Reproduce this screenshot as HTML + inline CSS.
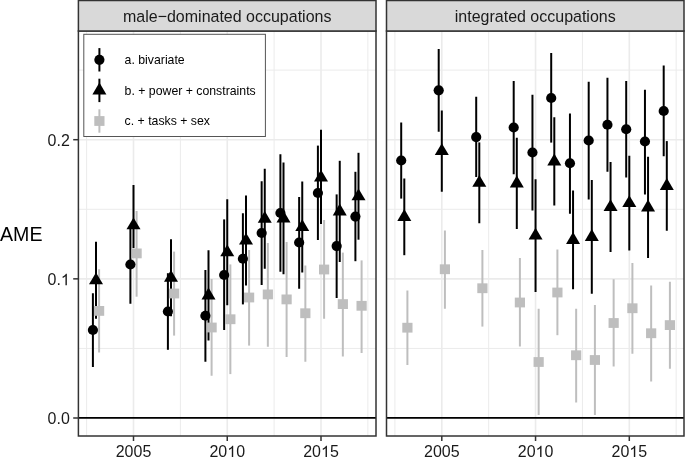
<!DOCTYPE html>
<html><head><meta charset="utf-8"><style>html,body{margin:0;padding:0;background:#fff;}svg{display:block;will-change:transform;}</style></head><body>
<svg width="685" height="457" viewBox="0 0 685 457" style="font-family:'Liberation Sans', sans-serif">
<rect width="685" height="457" fill="#fff"/>
<line x1="78.4" x2="376" y1="348.43" y2="348.43" stroke="#EBEBEB" stroke-width="1"/>
<line x1="78.4" x2="376" y1="209.28" y2="209.28" stroke="#EBEBEB" stroke-width="1"/>
<line x1="78.4" x2="376" y1="70.12" y2="70.12" stroke="#EBEBEB" stroke-width="1"/>
<line x1="78.4" x2="376" y1="418.00" y2="418.00" stroke="#EBEBEB" stroke-width="1.6"/>
<line x1="78.4" x2="376" y1="278.85" y2="278.85" stroke="#EBEBEB" stroke-width="1.6"/>
<line x1="78.4" x2="376" y1="139.70" y2="139.70" stroke="#EBEBEB" stroke-width="1.6"/>
<line x1="86.62" x2="86.62" y1="31" y2="436" stroke="#EBEBEB" stroke-width="1"/>
<line x1="180.38" x2="180.38" y1="31" y2="436" stroke="#EBEBEB" stroke-width="1"/>
<line x1="274.12" x2="274.12" y1="31" y2="436" stroke="#EBEBEB" stroke-width="1"/>
<line x1="367.88" x2="367.88" y1="31" y2="436" stroke="#EBEBEB" stroke-width="1"/>
<line x1="133.50" x2="133.50" y1="31" y2="436" stroke="#EBEBEB" stroke-width="1.6"/>
<line x1="227.25" x2="227.25" y1="31" y2="436" stroke="#EBEBEB" stroke-width="1.6"/>
<line x1="321.00" x2="321.00" y1="31" y2="436" stroke="#EBEBEB" stroke-width="1.6"/>
<line x1="78.4" x2="376" y1="417.9" y2="417.9" stroke="#000" stroke-width="1.8"/>
<rect x="83.8" y="34.3" width="181.6" height="102.2" fill="#fff" stroke="#555" stroke-width="1"/>
<line x1="92.90" x2="92.90" y1="293.25" y2="367.00" stroke="#000" stroke-width="2.0"/>
<line x1="96.00" x2="96.00" y1="241.75" y2="318.75" stroke="#000" stroke-width="2.0"/>
<line x1="99.10" x2="99.10" y1="269.25" y2="352.50" stroke="#BEBEBE" stroke-width="2.0"/>
<line x1="130.40" x2="130.40" y1="225.50" y2="303.75" stroke="#000" stroke-width="2.0"/>
<line x1="133.50" x2="133.50" y1="185.00" y2="248.00" stroke="#000" stroke-width="2.0"/>
<line x1="136.60" x2="136.60" y1="211.00" y2="296.70" stroke="#BEBEBE" stroke-width="2.0"/>
<line x1="167.90" x2="167.90" y1="273.20" y2="349.80" stroke="#000" stroke-width="2.0"/>
<line x1="171.00" x2="171.00" y1="239.20" y2="316.20" stroke="#000" stroke-width="2.0"/>
<line x1="174.10" x2="174.10" y1="251.60" y2="335.60" stroke="#BEBEBE" stroke-width="2.0"/>
<line x1="205.40" x2="205.40" y1="270.00" y2="361.75" stroke="#000" stroke-width="2.0"/>
<line x1="208.50" x2="208.50" y1="250.25" y2="340.50" stroke="#000" stroke-width="2.0"/>
<line x1="211.60" x2="211.60" y1="279.00" y2="375.75" stroke="#BEBEBE" stroke-width="2.0"/>
<line x1="224.15" x2="224.15" y1="219.40" y2="330.00" stroke="#000" stroke-width="2.0"/>
<line x1="227.25" x2="227.25" y1="199.25" y2="305.25" stroke="#000" stroke-width="2.0"/>
<line x1="230.35" x2="230.35" y1="264.40" y2="374.10" stroke="#BEBEBE" stroke-width="2.0"/>
<line x1="242.90" x2="242.90" y1="213.25" y2="304.40" stroke="#000" stroke-width="2.0"/>
<line x1="246.00" x2="246.00" y1="195.40" y2="285.60" stroke="#000" stroke-width="2.0"/>
<line x1="249.10" x2="249.10" y1="250.00" y2="345.60" stroke="#BEBEBE" stroke-width="2.0"/>
<line x1="261.65" x2="261.65" y1="181.25" y2="285.00" stroke="#000" stroke-width="2.0"/>
<line x1="264.75" x2="264.75" y1="168.75" y2="268.75" stroke="#000" stroke-width="2.0"/>
<line x1="267.85" x2="267.85" y1="243.00" y2="346.75" stroke="#BEBEBE" stroke-width="2.0"/>
<line x1="280.40" x2="280.40" y1="154.25" y2="271.75" stroke="#000" stroke-width="2.0"/>
<line x1="283.50" x2="283.50" y1="162.50" y2="274.25" stroke="#000" stroke-width="2.0"/>
<line x1="286.60" x2="286.60" y1="242.00" y2="357.00" stroke="#BEBEBE" stroke-width="2.0"/>
<line x1="299.15" x2="299.15" y1="197.00" y2="288.75" stroke="#000" stroke-width="2.0"/>
<line x1="302.25" x2="302.25" y1="181.50" y2="272.50" stroke="#000" stroke-width="2.0"/>
<line x1="305.35" x2="305.35" y1="265.50" y2="361.75" stroke="#BEBEBE" stroke-width="2.0"/>
<line x1="317.90" x2="317.90" y1="145.60" y2="240.00" stroke="#000" stroke-width="2.0"/>
<line x1="321.00" x2="321.00" y1="129.80" y2="224.00" stroke="#000" stroke-width="2.0"/>
<line x1="324.10" x2="324.10" y1="220.00" y2="318.75" stroke="#BEBEBE" stroke-width="2.0"/>
<line x1="336.65" x2="336.65" y1="194.40" y2="298.00" stroke="#000" stroke-width="2.0"/>
<line x1="339.75" x2="339.75" y1="160.80" y2="262.00" stroke="#000" stroke-width="2.0"/>
<line x1="342.85" x2="342.85" y1="252.60" y2="356.50" stroke="#BEBEBE" stroke-width="2.0"/>
<line x1="355.40" x2="355.40" y1="171.80" y2="261.20" stroke="#000" stroke-width="2.0"/>
<line x1="358.50" x2="358.50" y1="152.80" y2="239.70" stroke="#000" stroke-width="2.0"/>
<line x1="361.60" x2="361.60" y1="260.40" y2="353.00" stroke="#BEBEBE" stroke-width="2.0"/>
<circle cx="92.90" cy="330.00" r="5.1" fill="#000"/>
<path d="M96.00 272.45L103.00 284.25L89.00 284.25Z" fill="#000"/>
<rect x="94.00" y="306.00" width="10.2" height="9.8" fill="#BEBEBE"/>
<circle cx="130.40" cy="264.50" r="5.1" fill="#000"/>
<path d="M133.50 217.40L140.50 229.20L126.50 229.20Z" fill="#000"/>
<rect x="131.50" y="248.50" width="10.2" height="9.8" fill="#BEBEBE"/>
<circle cx="167.90" cy="311.50" r="5.1" fill="#000"/>
<path d="M171.00 269.90L178.00 281.70L164.00 281.70Z" fill="#000"/>
<rect x="169.00" y="288.60" width="10.2" height="9.8" fill="#BEBEBE"/>
<circle cx="205.40" cy="315.75" r="5.1" fill="#000"/>
<path d="M208.50 287.60L215.50 299.40L201.50 299.40Z" fill="#000"/>
<rect x="206.50" y="322.60" width="10.2" height="9.8" fill="#BEBEBE"/>
<circle cx="224.15" cy="275.00" r="5.1" fill="#000"/>
<path d="M227.25 244.45L234.25 256.25L220.25 256.25Z" fill="#000"/>
<rect x="225.25" y="314.35" width="10.2" height="9.8" fill="#BEBEBE"/>
<circle cx="242.90" cy="258.75" r="5.1" fill="#000"/>
<path d="M246.00 232.70L253.00 244.50L239.00 244.50Z" fill="#000"/>
<rect x="244.00" y="292.60" width="10.2" height="9.8" fill="#BEBEBE"/>
<circle cx="261.65" cy="233.00" r="5.1" fill="#000"/>
<path d="M264.75 210.95L271.75 222.75L257.75 222.75Z" fill="#000"/>
<rect x="262.75" y="289.50" width="10.2" height="9.8" fill="#BEBEBE"/>
<circle cx="280.40" cy="213.00" r="5.1" fill="#000"/>
<path d="M283.50 210.60L290.50 222.40L276.50 222.40Z" fill="#000"/>
<rect x="281.50" y="294.50" width="10.2" height="9.8" fill="#BEBEBE"/>
<circle cx="299.15" cy="242.50" r="5.1" fill="#000"/>
<path d="M302.25 219.20L309.25 231.00L295.25 231.00Z" fill="#000"/>
<rect x="300.25" y="308.35" width="10.2" height="9.8" fill="#BEBEBE"/>
<circle cx="317.90" cy="193.00" r="5.1" fill="#000"/>
<path d="M321.00 169.70L328.00 181.50L314.00 181.50Z" fill="#000"/>
<rect x="319.00" y="264.60" width="10.2" height="9.8" fill="#BEBEBE"/>
<circle cx="336.65" cy="246.10" r="5.1" fill="#000"/>
<path d="M339.75 203.60L346.75 215.40L332.75 215.40Z" fill="#000"/>
<rect x="337.75" y="299.20" width="10.2" height="9.8" fill="#BEBEBE"/>
<circle cx="355.40" cy="216.60" r="5.1" fill="#000"/>
<path d="M358.50 188.50L365.50 200.30L351.50 200.30Z" fill="#000"/>
<rect x="356.50" y="300.90" width="10.2" height="9.8" fill="#BEBEBE"/>
<rect x="78.4" y="31" width="297.6" height="405" fill="none" stroke="#333" stroke-width="1.5"/>
<rect x="78.4" y="0.5" width="297.6" height="30.5" fill="#D9D9D9" stroke="#333" stroke-width="1.5"/>
<text transform="translate(227.20 21.50) scale(1 1.04)" text-anchor="middle" font-size="16" fill="#1A1A1A">male−dominated occupations</text>
<line x1="133.50" x2="133.50" y1="436" y2="441" stroke="#333" stroke-width="1.5"/>
<text transform="translate(133.50 457.10) scale(1 1.04)" text-anchor="middle" font-size="16" fill="#1A1A1A">2005</text>
<line x1="227.25" x2="227.25" y1="436" y2="441" stroke="#333" stroke-width="1.5"/>
<text transform="translate(227.25 457.10) scale(1 1.04)" text-anchor="middle" font-size="16" fill="#1A1A1A">20 0</text>
<path transform="translate(227.25 457.10) scale(0.00781 -0.00813)" d="M763 0L583 0L583 1098Q518 1038 412 979Q307 920 223 890L223 1057Q374 1125 487 1221Q600 1318 647 1409L763 1409Z" fill="#1A1A1A"/>
<line x1="321.00" x2="321.00" y1="436" y2="441" stroke="#333" stroke-width="1.5"/>
<text transform="translate(321.00 457.10) scale(1 1.04)" text-anchor="middle" font-size="16" fill="#1A1A1A">20 5</text>
<path transform="translate(321.00 457.10) scale(0.00781 -0.00813)" d="M763 0L583 0L583 1098Q518 1038 412 979Q307 920 223 890L223 1057Q374 1125 487 1221Q600 1318 647 1409L763 1409Z" fill="#1A1A1A"/>
<line x1="386.5" x2="684" y1="348.43" y2="348.43" stroke="#EBEBEB" stroke-width="1"/>
<line x1="386.5" x2="684" y1="209.28" y2="209.28" stroke="#EBEBEB" stroke-width="1"/>
<line x1="386.5" x2="684" y1="70.12" y2="70.12" stroke="#EBEBEB" stroke-width="1"/>
<line x1="386.5" x2="684" y1="418.00" y2="418.00" stroke="#EBEBEB" stroke-width="1.6"/>
<line x1="386.5" x2="684" y1="278.85" y2="278.85" stroke="#EBEBEB" stroke-width="1.6"/>
<line x1="386.5" x2="684" y1="139.70" y2="139.70" stroke="#EBEBEB" stroke-width="1.6"/>
<line x1="394.93" x2="394.93" y1="31" y2="436" stroke="#EBEBEB" stroke-width="1"/>
<line x1="488.68" x2="488.68" y1="31" y2="436" stroke="#EBEBEB" stroke-width="1"/>
<line x1="582.42" x2="582.42" y1="31" y2="436" stroke="#EBEBEB" stroke-width="1"/>
<line x1="676.17" x2="676.17" y1="31" y2="436" stroke="#EBEBEB" stroke-width="1"/>
<line x1="441.80" x2="441.80" y1="31" y2="436" stroke="#EBEBEB" stroke-width="1.6"/>
<line x1="535.55" x2="535.55" y1="31" y2="436" stroke="#EBEBEB" stroke-width="1.6"/>
<line x1="629.30" x2="629.30" y1="31" y2="436" stroke="#EBEBEB" stroke-width="1.6"/>
<line x1="386.5" x2="684" y1="417.9" y2="417.9" stroke="#000" stroke-width="1.8"/>
<line x1="401.20" x2="401.20" y1="122.50" y2="198.60" stroke="#000" stroke-width="2.0"/>
<line x1="404.30" x2="404.30" y1="178.50" y2="255.20" stroke="#000" stroke-width="2.0"/>
<line x1="407.40" x2="407.40" y1="290.50" y2="365.00" stroke="#BEBEBE" stroke-width="2.0"/>
<line x1="438.70" x2="438.70" y1="49.00" y2="131.75" stroke="#000" stroke-width="2.0"/>
<line x1="441.80" x2="441.80" y1="110.50" y2="191.75" stroke="#000" stroke-width="2.0"/>
<line x1="444.90" x2="444.90" y1="230.50" y2="308.75" stroke="#BEBEBE" stroke-width="2.0"/>
<line x1="476.20" x2="476.20" y1="96.75" y2="177.00" stroke="#000" stroke-width="2.0"/>
<line x1="479.30" x2="479.30" y1="142.40" y2="223.25" stroke="#000" stroke-width="2.0"/>
<line x1="482.40" x2="482.40" y1="250.00" y2="326.60" stroke="#BEBEBE" stroke-width="2.0"/>
<line x1="513.70" x2="513.70" y1="81.00" y2="174.25" stroke="#000" stroke-width="2.0"/>
<line x1="516.80" x2="516.80" y1="137.75" y2="229.00" stroke="#000" stroke-width="2.0"/>
<line x1="519.90" x2="519.90" y1="258.00" y2="346.50" stroke="#BEBEBE" stroke-width="2.0"/>
<line x1="532.45" x2="532.45" y1="94.75" y2="210.50" stroke="#000" stroke-width="2.0"/>
<line x1="535.55" x2="535.55" y1="179.25" y2="292.00" stroke="#000" stroke-width="2.0"/>
<line x1="538.65" x2="538.65" y1="308.75" y2="415.00" stroke="#BEBEBE" stroke-width="2.0"/>
<line x1="551.20" x2="551.20" y1="53.00" y2="142.60" stroke="#000" stroke-width="2.0"/>
<line x1="554.30" x2="554.30" y1="117.25" y2="205.50" stroke="#000" stroke-width="2.0"/>
<line x1="557.40" x2="557.40" y1="249.50" y2="335.20" stroke="#BEBEBE" stroke-width="2.0"/>
<line x1="569.95" x2="569.95" y1="113.50" y2="213.75" stroke="#000" stroke-width="2.0"/>
<line x1="573.05" x2="573.05" y1="190.50" y2="289.25" stroke="#000" stroke-width="2.0"/>
<line x1="576.15" x2="576.15" y1="308.75" y2="402.50" stroke="#BEBEBE" stroke-width="2.0"/>
<line x1="588.70" x2="588.70" y1="81.75" y2="199.50" stroke="#000" stroke-width="2.0"/>
<line x1="591.80" x2="591.80" y1="180.00" y2="293.75" stroke="#000" stroke-width="2.0"/>
<line x1="594.90" x2="594.90" y1="305.00" y2="415.00" stroke="#BEBEBE" stroke-width="2.0"/>
<line x1="607.45" x2="607.45" y1="77.75" y2="171.75" stroke="#000" stroke-width="2.0"/>
<line x1="610.55" x2="610.55" y1="162.00" y2="252.00" stroke="#000" stroke-width="2.0"/>
<line x1="613.65" x2="613.65" y1="279.25" y2="366.50" stroke="#BEBEBE" stroke-width="2.0"/>
<line x1="626.20" x2="626.20" y1="81.00" y2="177.50" stroke="#000" stroke-width="2.0"/>
<line x1="629.30" x2="629.30" y1="155.75" y2="250.50" stroke="#000" stroke-width="2.0"/>
<line x1="632.40" x2="632.40" y1="263.00" y2="353.75" stroke="#BEBEBE" stroke-width="2.0"/>
<line x1="644.95" x2="644.95" y1="89.75" y2="194.50" stroke="#000" stroke-width="2.0"/>
<line x1="648.05" x2="648.05" y1="156.75" y2="258.00" stroke="#000" stroke-width="2.0"/>
<line x1="651.15" x2="651.15" y1="285.50" y2="381.50" stroke="#BEBEBE" stroke-width="2.0"/>
<line x1="663.70" x2="663.70" y1="65.50" y2="156.25" stroke="#000" stroke-width="2.0"/>
<line x1="666.80" x2="666.80" y1="141.10" y2="230.75" stroke="#000" stroke-width="2.0"/>
<line x1="669.90" x2="669.90" y1="281.75" y2="368.75" stroke="#BEBEBE" stroke-width="2.0"/>
<circle cx="401.20" cy="160.50" r="5.1" fill="#000"/>
<path d="M404.30 209.10L411.30 220.90L397.30 220.90Z" fill="#000"/>
<rect x="402.30" y="322.80" width="10.2" height="9.8" fill="#BEBEBE"/>
<circle cx="438.70" cy="90.30" r="5.1" fill="#000"/>
<path d="M441.80 143.30L448.80 155.10L434.80 155.10Z" fill="#000"/>
<rect x="439.80" y="264.35" width="10.2" height="9.8" fill="#BEBEBE"/>
<circle cx="476.20" cy="137.10" r="5.1" fill="#000"/>
<path d="M479.30 175.00L486.30 186.80L472.30 186.80Z" fill="#000"/>
<rect x="477.30" y="283.35" width="10.2" height="9.8" fill="#BEBEBE"/>
<circle cx="513.70" cy="127.50" r="5.1" fill="#000"/>
<path d="M516.80 175.60L523.80 187.40L509.80 187.40Z" fill="#000"/>
<rect x="514.80" y="297.60" width="10.2" height="9.8" fill="#BEBEBE"/>
<circle cx="532.45" cy="152.50" r="5.1" fill="#000"/>
<path d="M535.55 227.80L542.55 239.60L528.55 239.60Z" fill="#000"/>
<rect x="533.55" y="357.10" width="10.2" height="9.8" fill="#BEBEBE"/>
<circle cx="551.20" cy="98.00" r="5.1" fill="#000"/>
<path d="M554.30 153.60L561.30 165.40L547.30 165.40Z" fill="#000"/>
<rect x="552.30" y="287.60" width="10.2" height="9.8" fill="#BEBEBE"/>
<circle cx="569.95" cy="163.25" r="5.1" fill="#000"/>
<path d="M573.05 232.10L580.05 243.90L566.05 243.90Z" fill="#000"/>
<rect x="571.05" y="350.35" width="10.2" height="9.8" fill="#BEBEBE"/>
<circle cx="588.70" cy="140.50" r="5.1" fill="#000"/>
<path d="M591.80 229.10L598.80 240.90L584.80 240.90Z" fill="#000"/>
<rect x="589.80" y="355.10" width="10.2" height="9.8" fill="#BEBEBE"/>
<circle cx="607.45" cy="124.75" r="5.1" fill="#000"/>
<path d="M610.55 199.20L617.55 211.00L603.55 211.00Z" fill="#000"/>
<rect x="608.55" y="318.10" width="10.2" height="9.8" fill="#BEBEBE"/>
<circle cx="626.20" cy="129.25" r="5.1" fill="#000"/>
<path d="M629.30 195.30L636.30 207.10L622.30 207.10Z" fill="#000"/>
<rect x="627.30" y="303.35" width="10.2" height="9.8" fill="#BEBEBE"/>
<circle cx="644.95" cy="141.50" r="5.1" fill="#000"/>
<path d="M648.05 199.60L655.05 211.40L641.05 211.40Z" fill="#000"/>
<rect x="646.05" y="328.35" width="10.2" height="9.8" fill="#BEBEBE"/>
<circle cx="663.70" cy="111.00" r="5.1" fill="#000"/>
<path d="M666.80 178.10L673.80 189.90L659.80 189.90Z" fill="#000"/>
<rect x="664.80" y="320.20" width="10.2" height="9.8" fill="#BEBEBE"/>
<rect x="386.5" y="31" width="297.5" height="405" fill="none" stroke="#333" stroke-width="1.5"/>
<rect x="386.5" y="0.5" width="297.5" height="30.5" fill="#D9D9D9" stroke="#333" stroke-width="1.5"/>
<text transform="translate(535.25 21.50) scale(1 1.04)" text-anchor="middle" font-size="16" fill="#1A1A1A">integrated occupations</text>
<line x1="441.80" x2="441.80" y1="436" y2="441" stroke="#333" stroke-width="1.5"/>
<text transform="translate(441.80 457.10) scale(1 1.04)" text-anchor="middle" font-size="16" fill="#1A1A1A">2005</text>
<line x1="535.55" x2="535.55" y1="436" y2="441" stroke="#333" stroke-width="1.5"/>
<text transform="translate(535.55 457.10) scale(1 1.04)" text-anchor="middle" font-size="16" fill="#1A1A1A">20 0</text>
<path transform="translate(535.55 457.10) scale(0.00781 -0.00813)" d="M763 0L583 0L583 1098Q518 1038 412 979Q307 920 223 890L223 1057Q374 1125 487 1221Q600 1318 647 1409L763 1409Z" fill="#1A1A1A"/>
<line x1="629.30" x2="629.30" y1="436" y2="441" stroke="#333" stroke-width="1.5"/>
<text transform="translate(629.30 457.10) scale(1 1.04)" text-anchor="middle" font-size="16" fill="#1A1A1A">20 5</text>
<path transform="translate(629.30 457.10) scale(0.00781 -0.00813)" d="M763 0L583 0L583 1098Q518 1038 412 979Q307 920 223 890L223 1057Q374 1125 487 1221Q600 1318 647 1409L763 1409Z" fill="#1A1A1A"/>
<line x1="99.4" x2="99.4" y1="48.10" y2="71.50" stroke="#000" stroke-width="2.0"/>
<circle cx="99.4" cy="59.8" r="5.1" fill="#000"/>
<text transform="translate(124.60 64.20) scale(1 1.04)" text-anchor="start" font-size="12.3" fill="#000">a. bivariate</text>
<line x1="99.4" x2="99.4" y1="78.70" y2="102.10" stroke="#000" stroke-width="2.0"/>
<path d="M99.40 82.60L106.40 94.40L92.40 94.40Z" fill="#000"/>
<text transform="translate(124.60 94.80) scale(1 1.04)" text-anchor="start" font-size="12.3" fill="#000">b. + power + constraints</text>
<line x1="99.4" x2="99.4" y1="109.30" y2="132.70" stroke="#BEBEBE" stroke-width="2.0"/>
<rect x="94.30" y="116.10" width="10.2" height="9.8" fill="#BEBEBE"/>
<text transform="translate(124.60 125.40) scale(1 1.04)" text-anchor="start" font-size="12.3" fill="#000">c. + tasks + sex</text>
<line x1="73.2" x2="78" y1="418.00" y2="418.00" stroke="#333" stroke-width="1.5"/>
<text transform="translate(69.80 424.30) scale(1 1.04)" text-anchor="end" font-size="16" fill="#1A1A1A">0.0</text>
<line x1="73.2" x2="78" y1="278.85" y2="278.85" stroke="#333" stroke-width="1.5"/>
<text transform="translate(69.80 285.15) scale(1 1.04)" text-anchor="end" font-size="16" fill="#1A1A1A">0. </text>
<path transform="translate(60.90 285.15) scale(0.00781 -0.00813)" d="M763 0L583 0L583 1098Q518 1038 412 979Q307 920 223 890L223 1057Q374 1125 487 1221Q600 1318 647 1409L763 1409Z" fill="#1A1A1A"/>
<line x1="73.2" x2="78" y1="139.70" y2="139.70" stroke="#333" stroke-width="1.5"/>
<text transform="translate(69.80 146.00) scale(1 1.04)" text-anchor="end" font-size="16" fill="#1A1A1A">0.2</text>
<text transform="translate(0.00 241.00) scale(1 1.04)" text-anchor="start" font-size="19.6" fill="#000">AME</text>
</svg></body></html>
